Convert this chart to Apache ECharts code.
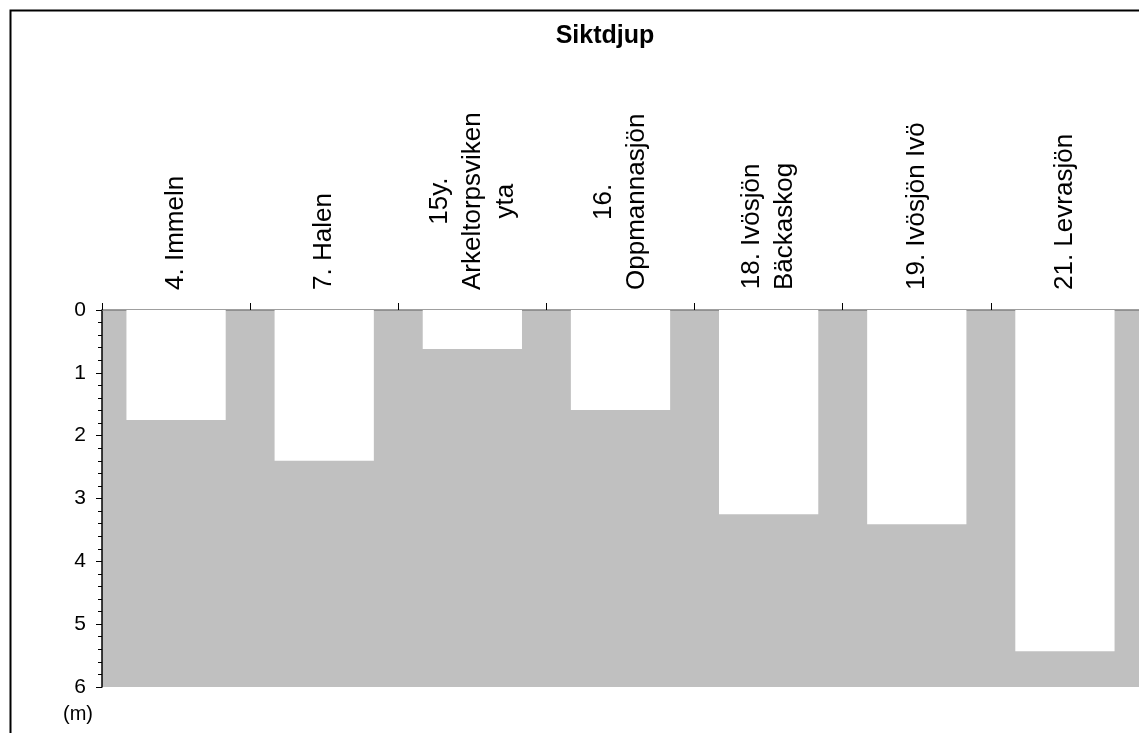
<!DOCTYPE html>
<html>
<head>
<meta charset="utf-8">
<title>Siktdjup</title>
<script src="https://cdn.jsdelivr.net/npm/echarts@6/dist/echarts.min.js"></script>
<style>
  html, body { margin: 0; padding: 0; background: #fff; }
  #chart { width: 1139px; height: 733px; }
</style>
</head>
<body>
<div id="chart"></div>
<script>
// Lake names (line breaks as printed) and Secchi depth in metres
const categories = [
  '4. Immeln',
  '7. Halen',
  '15y.\nArkeltorpsviken\nyta',
  '16.\nOppmannasjön',
  '18. Ivösjön\nBäckaskog',
  '19. Ivösjön Ivö',
  '21. Levrasjön'
];
const depths = [1.75, 2.4, 0.62, 1.59, 3.25, 3.41, 5.43];
const depthTicks = [0, 1, 2, 3, 4, 5, 6];

const FONT = '"Liberation Sans", Arial, sans-serif';

const chart = echarts.init(document.getElementById('chart'), null, { renderer: 'canvas' });

chart.setOption({
  animation: false,
  backgroundColor: '#ffffff',
  title: {
    text: 'Siktdjup',
    left: 600,
    top: 19,
    textAlign: 'center',
    textStyle: { fontFamily: FONT, fontSize: 25, fontWeight: 'bold', color: '#000' }
  },
  graphic: [
    {
      type: 'rect',
      silent: true,
      shape: { x: 10.5, y: 10.5, width: 1400, height: 1000 },
      style: { fill: 'none', stroke: '#000', lineWidth: 2 }
    },
    {
      type: 'text',
      left: 63,
      top: 704,
      style: { text: '(m)', font: '20px ' + FONT, fill: '#000' }
    }
  ],
  grid: {
    left: 102,
    top: 310,
    width: 1037,
    height: 377,
    show: true,
    backgroundColor: '#c0c0c0',
    borderWidth: 0
  },
  xAxis: {
    type: 'category',
    position: 'top',
    data: categories,
    axisLine: { show: true, lineStyle: { color: '#808080', width: 1.5 } },
    axisTick: { show: true, length: 7, lineStyle: { color: '#000', width: 1 } },
    axisLabel: {
      interval: 0,
      rotate: 90,
      margin: 20,
      formatter: v => v.split('\n').map(s => '{c|' + s + '}').join('\n'),
      rich: {
        c: { align: 'center', fontFamily: FONT, fontSize: 26, lineHeight: 33, color: '#000' }
      }
    },
    splitLine: { show: false }
  },
  yAxis: {
    type: 'value',
    inverse: true,
    min: depthTicks[0],
    max: depthTicks[depthTicks.length - 1],
    interval: 1,
    axisLine: { show: true, lineStyle: { color: '#000', width: 1.5 } },
    axisTick: { show: true, length: 6, lineStyle: { color: '#000' } },
    minorTick: { show: true, splitNumber: 5, length: 4, lineStyle: { color: '#000' } },
    axisLabel: {
      margin: 16,
      fontFamily: FONT,
      fontSize: 21,
      color: '#000'
    },
    splitLine: { show: false }
  },
  series: [
    {
      type: 'bar',
      data: depths,
      barCategoryGap: '33%',
      itemStyle: { color: '#ffffff' },
      silent: true
    }
  ]
});
</script>
</body>
</html>
